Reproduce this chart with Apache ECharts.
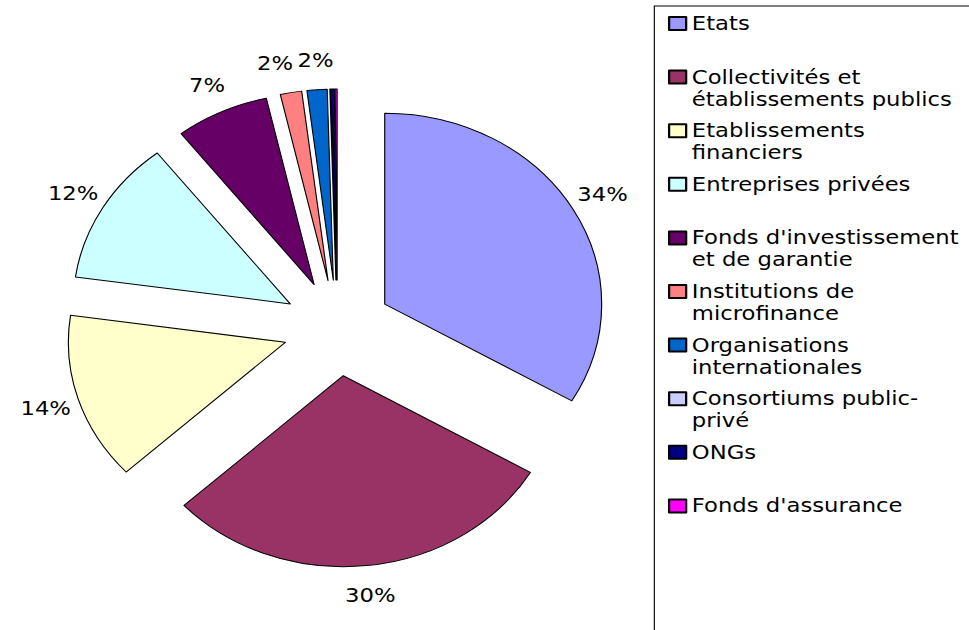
<!DOCTYPE html>
<html>
<head>
<meta charset="utf-8">
<script src="https://cdn.jsdelivr.net/npm/echarts@6/dist/echarts.min.js"></script>
<style>
    html, body {
        margin: 0;
        padding: 0;
        background: #fff;
        overflow: hidden;
        height: 630px;
    }
    /* the reference is stretched sideways, so the chart is drawn narrow then widened;
       it is also taller than the window so the legend box runs off the bottom */
    #chart {
        width: 853px;
        height: 700px;
        transform: scaleX(1.136);
        transform-origin: 0 0;
    }
</style>
</head>
<body>
<div id="chart"></div>
<script>
var categories = [
    "Etats",
    "Collectivités et établissements publics",
    "Etablissements financiers",
    "Entreprises privées",
    "Fonds d'investissement et de garantie",
    "Institutions de microfinance",
    "Organisations internationales",
    "Consortiums public-privé",
    "ONGs",
    "Fonds d'assurance"
];
var legendLabels = [
    "Etats\n ",
    "Collectivités et\nétablissements publics",
    "Etablissements\nfinanciers",
    "Entreprises privées\n ",
    "Fonds d'investissement\net de garantie",
    "Institutions de\nmicrofinance",
    "Organisations\ninternationales",
    "Consortiums public-\nprivé",
    "ONGs\n ",
    "Fonds d'assurance\n "
];
var values = [33.6, 29.8, 14.2, 12.3, 7.0, 1.6, 1.5, 0.05, 0.25, 0.15];
var colors = ["#9999FF", "#993366", "#FFFFCC", "#CCFFFF", "#660066",
    "#FF8080", "#0066CC", "#CCCCFF", "#000080", "#FF00FF"];

var font = "DejaVu Sans, Arial, sans-serif";
var mychart = echarts.init(document.getElementById("chart"), null, { renderer: "svg" });

var pieData = categories.map(function (name, i) {
    return {
        name: name,
        value: values[i],
        selected: true,
        itemStyle: { color: colors[i] }
    };
});

var option = {
    animation: false,
    legend: {
        orient: "vertical",
        left: 576,
        top: 6,
        padding: [5, 60, 100, 12],
        borderColor: "#000",
        borderWidth: 1,
        itemWidth: 15,
        itemHeight: 44,
        itemGap: 7.6,
        selectedMode: false,
        // square sits at the top of a tall box so it lines up with the first text line
        icon: "path://M0,0M0,5H15V18H0Z M0,44",
        textStyle: {
            fontFamily: font,
            fontSize: 20,
            lineHeight: 22,
            color: "#000",
        },
        formatter: function (name) {
            return legendLabels[categories.indexOf(name)];
        },
        data: categories,
    },
    series: [
        {
            name: "Répartition",
            type: "pie",
            center: [297, 328],
            radius: [0, 191],
            startAngle: 90,
            clockwise: true,
            selectedMode: "multiple",
            selectedOffset: 48,
            avoidLabelOverlap: false,
            silent: true,
            emphasis: { disabled: true },
            itemStyle: {
                borderColor: "#000",
                borderWidth: 1,
            },
            label: {
                show: true,
                position: "outside",
                distanceToLabelLine: 0,
                fontFamily: font,
                fontSize: 20,
                color: "#000",
                formatter: function (p) {
                    return p.value >= 1 ? Math.round(p.value) + "%" : "";
                },
            },
            labelLine: {
                show: false,
                length: 30,
                length2: 0,
            },
            labelLayout: function (p) {
                // the two thin 2% slices sit side by side: push their labels apart
                if (p.dataIndex === 5) return { align: "right", dx: 7 };
                if (p.dataIndex === 6) return { align: "left", dx: -15 };
                return { align: "center" };
            },
            data: pieData,
        },
    ],
};

mychart.setOption(option);
</script>
</body>
</html>
